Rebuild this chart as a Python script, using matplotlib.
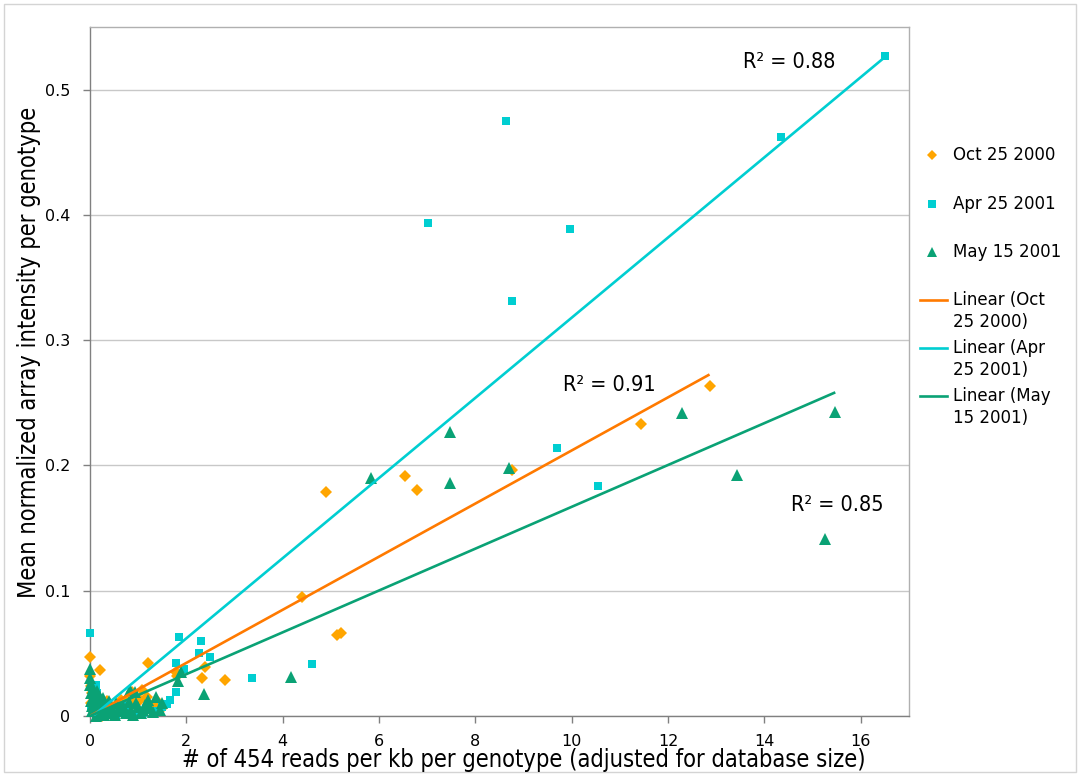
import matplotlib
matplotlib.use("Agg")
import matplotlib.pyplot as plt
import matplotlib.font_manager as fm
from matplotlib.lines import Line2D
from matplotlib.patches import Rectangle
from matplotlib.ticker import FuncFormatter
import numpy as np

# ---------------- data ----------------
series_labels = ["Oct 25 2000", "Apr 25 2001", "May 15 2001"]
trend_labels = ["Linear (Oct\n25 2000)", "Linear (Apr\n25 2001)", "Linear (May\n15 2001)"]

oct_x = [4.41, 4.90, 5.13, 5.22, 6.54, 6.79, 8.76, 11.44, 12.86,
         2.81, 2.33, 2.38, 1.80, 1.78, 1.21,
         0.00, 0.21, 0.00, 0.02, 0.05, 0.10, 0.15, 0.20, 0.30, 0.35, 0.42, 0.50,
         0.60, 0.70, 0.80, 0.88, 0.95, 1.04, 1.07, 1.18, 1.30, 1.50, 0.08, 0.25, 1.12,
         0.03, 0.12, 0.65, 0.85, 1.40]
oct_y = [0.0953, 0.179, 0.0645, 0.0665, 0.1917, 0.1805, 0.1965, 0.233, 0.2636,
         0.0288, 0.0302, 0.0394, 0.032, 0.0354, 0.042,
         0.047, 0.037, 0.032, 0.024, 0.018, 0.012, 0.006, 0.009, 0.004, 0.012, 0.007, 0.003,
         0.008, 0.005, 0.015, 0.019, 0.012, 0.0128, 0.0208, 0.0154, 0.009, 0.006, 0.002, 0.000, 0.003,
         0.010, 0.016, 0.013, 0.010, 0.012]

apr_x = [16.50, 14.34, 8.64, 7.02, 9.97, 8.76, 9.70, 10.55, 4.61, 3.37,
         2.30, 2.26, 2.49, 1.85, 1.78, 1.95, 1.78, 1.66, 1.60,
         0.00, 0.05, 0.12, 0.18, 0.25, 0.30, 0.45, 0.55, 0.65, 0.75, 0.90,
         1.00, 1.20, 1.40, 0.02, 0.10, 0.35, 0.15, 0.08, 1.50, 1.10]
apr_y = [0.527, 0.462, 0.4747, 0.3935, 0.389, 0.331, 0.2138, 0.1837, 0.0415, 0.0306,
         0.0597, 0.0506, 0.0469, 0.0629, 0.042, 0.0373, 0.0194, 0.0128, 0.0096,
         0.066, 0.022, 0.025, 0.012, 0.006, 0.002, 0.005, 0.001, 0.004, 0.008, 0.000,
         0.003, 0.006, 0.004, 0.008, 0.003, 0.010, 0.018, 0.015, 0.007, 0.002]

may_x = [15.47, 15.25, 13.43, 12.29, 8.69, 7.47, 7.48, 5.83, 4.18, 2.37,
         1.89, 1.83, 1.49, 1.38, 1.21, 1.11, 0.93, 0.83,
         0.00, 0.00, 0.03, 0.06, 0.10, 0.14, 0.18, 0.22, 0.27, 0.32, 0.38, 0.45,
         0.52, 0.60, 0.68, 0.75, 1.00, 1.30, 0.05, 0.12, 0.40, 0.90,
         0.02, 0.04, 0.08, 0.16, 0.20, 0.25, 0.30, 0.35, 0.42, 0.48, 0.55, 0.63,
         0.72, 0.80, 0.86, 0.96, 1.05, 1.15, 1.25, 1.45, 0.01, 0.07, 0.11, 0.28]
may_y = [0.2426, 0.1414, 0.1925, 0.242, 0.198, 0.227, 0.186, 0.190, 0.0314, 0.0176,
         0.0354, 0.028, 0.0101, 0.0154, 0.0128, 0.0048, 0.0194, 0.0208,
         0.0375, 0.025, 0.018, 0.022, 0.014, 0.020, 0.008, 0.012, 0.004, 0.009, 0.002, 0.006,
         0.001, 0.004, 0.008, 0.002, 0.007, 0.003, 0.004, 0.000, 0.012, 0.001,
         0.012, 0.008, 0.016, 0.003, 0.015, 0.010, 0.001, 0.005, 0.008, 0.003, 0.010, 0.007,
         0.004, 0.011, 0.005, 0.010, 0.002, 0.009, 0.006, 0.005, 0.030, 0.005, 0.009, 0.014]

# linear trendlines (slope, intercept) and R^2 labels
trend_slope = [0.0212, 0.0320, 0.0167]
trend_intercept = [0.0, -0.002, 0.0]
r2_text = ["R² = 0.91", "R² = 0.88", "R² = 0.85"]
r2_pos = [(10.77, 0.264), (14.52, 0.522), (15.51, 0.1685)]

x_ticks = [0, 2, 4, 6, 8, 10, 12, 14, 16]
y_ticks = [0, 0.1, 0.2, 0.3, 0.4, 0.5]
x_label = "# of 454 reads per kb per genotype (adjusted for database size)"
y_label = "Mean normalized array intensity per genotype"

# ---------------- style ----------------
base = "DejaVu Sans"
cond_fp = fm.FontProperties(family="DejaVu Sans", stretch="condensed")
cond_file = fm.findfont(cond_fp)
has_cond = "ondensed" in cond_file
title_size = 17 if has_cond else 15.3
r2_size = 15.5 if has_cond else 14


def tprops(size):
    if has_cond:
        return fm.FontProperties(fname=cond_file, size=size)
    return fm.FontProperties(family=base, size=size)


marker_colors = ["#FFA500", "#00CED1", "#0AA275"]
line_colors = ["#FF7A00", "#00CED1", "#0AA275"]
markers = ["D", "s", "^"]
msizes = [6.5, 6, 9]

W, H = 1080, 776
fig = plt.figure(figsize=(W / 100, H / 100), dpi=100)
fig.patch.set_facecolor("white")

fig.add_artist(Rectangle((4 / W, 4 / H), 1 - 8 / W, 1 - 8 / H, transform=fig.transFigure,
                         fill=False, edgecolor="#D4D4D4", linewidth=1.0))

ax = fig.add_axes([90 / W, 1 - 716 / H, 819 / W, 689 / H])
ax.set_xlim(0, 17)
ax.set_ylim(0, 0.55)

xs = [oct_x, apr_x, may_x]
ys = [oct_y, apr_y, may_y]

for i in range(3):
    ax.plot(xs[i], ys[i], linestyle="none", marker=markers[i], markersize=msizes[i],
            color=marker_colors[i], markeredgewidth=0, zorder=3, clip_on=False)

for i in range(3):
    xx = np.array([min(xs[i]), max(xs[i])])
    ax.plot(xx, trend_slope[i] * xx + trend_intercept[i], color=line_colors[i],
            linewidth=1.9, zorder=4, solid_capstyle="butt")

for t, (px, py) in zip(r2_text, r2_pos):
    ax.text(px, py, t, ha="center", va="center", fontproperties=tprops(r2_size),
            color="black", zorder=5)

ax.set_xticks(x_ticks)
ax.set_yticks(y_ticks)
ax.yaxis.set_major_formatter(FuncFormatter(lambda v, p: "0" if v == 0 else f"{v:g}"))
ax.grid(axis="y", color="#C8C8C8", linewidth=1.0, zorder=0)
ax.set_axisbelow(True)
for s in ["top", "right"]:
    ax.spines[s].set_color("#B0B0B0")
    ax.spines[s].set_linewidth(1.0)
for s in ["left", "bottom"]:
    ax.spines[s].set_color("#808080")
    ax.spines[s].set_linewidth(1.0)
ax.tick_params(axis="both", direction="out", length=5, width=1, color="#808080",
               labelsize=11.5, labelcolor="black")
ax.tick_params(axis="x", pad=8)
ax.tick_params(axis="y", pad=9)
for lab in ax.get_xticklabels() + ax.get_yticklabels():
    lab.set_family(base)

fig.text(524 / W, 1 - 760 / H, x_label, ha="center", va="center", fontproperties=tprops(title_size))
fig.text(29 / W, 1 - 352 / H, y_label, ha="center", va="center", rotation=90,
         fontproperties=tprops(title_size))

# ---------------- legend (drawn manually) ----------------
marker_rows = [155, 204, 252]
for i in range(3):
    fy = 1 - marker_rows[i] / H
    fig.add_artist(Line2D([932 / W], [fy], transform=fig.transFigure, marker=markers[i],
                          markersize=msizes[i] * 0.85, color=marker_colors[i], markeredgewidth=0,
                          linestyle="none"))
    fig.text(953 / W, fy, series_labels[i], ha="left", va="center", fontsize=12, family=base)

line_rows = [311, 359, 407]
for i in range(3):
    fy = 1 - line_rows[i] / H
    fy_line = 1 - (line_rows[i] - 11) / H
    fig.add_artist(Line2D([920 / W, 947 / W], [fy_line, fy_line], transform=fig.transFigure,
                          color=line_colors[i], linewidth=1.9))
    fig.text(953 / W, fy, trend_labels[i], ha="left", va="center", fontsize=12, family=base,
             linespacing=1.35)

fig.savefig("out.png", dpi=100, facecolor="white")
